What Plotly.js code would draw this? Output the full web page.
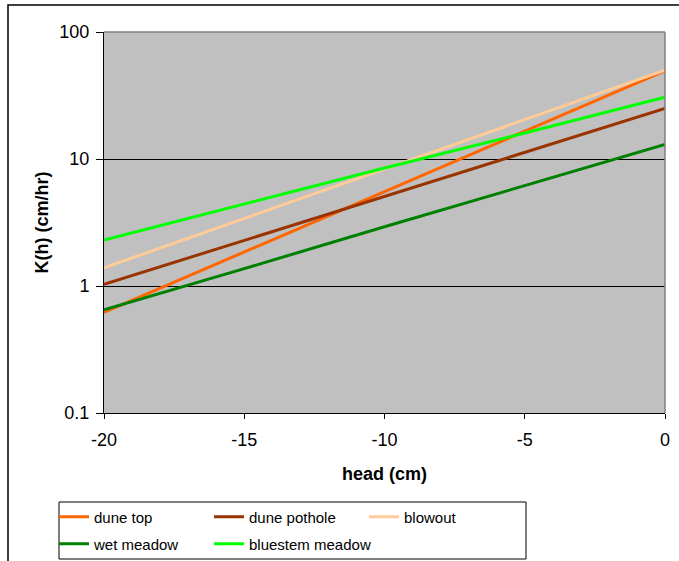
<!DOCTYPE html>
<html>
<head>
<meta charset="utf-8">
<script src="https://cdn.plot.ly/plotly-3.0.1.min.js"></script>
<style>
  html, body { margin: 0; padding: 0; background: #fff; }
  #chart { width: 679px; height: 561px; }
</style>
</head>
<body>
<div id="chart"></div>
<script>
// head (cm)
const head = [-20, -15, -10, -5, 0];
// K(h) (cm/hr) per site
const duneTop        = [0.62, 1.85, 5.55, 16.6, 49.5];
const dunePothole    = [1.03, 2.29, 5.05, 11.3, 25.0];
const blowout        = [1.39, 3.40, 8.40, 20.4, 50.0];
const wetMeadow      = [0.65, 1.37, 2.93, 6.2, 13.0];
const bluestemMeadow = [2.30, 4.40, 8.50, 16.0, 30.6];

const seriesNames = ['dune top', 'dune pothole', 'blowout', 'wet meadow', 'bluestem meadow'];
const seriesValues = [duneTop, dunePothole, blowout, wetMeadow, bluestemMeadow];
const seriesColors = ['#FF6600', '#993300', '#FFCC99', '#008000', '#00FF00'];
const seriesLegend = ['legend', 'legend', 'legend', 'legend2', 'legend2'];

const yTickVals = [0.1, 1, 10, 100];
const yTickText = ['0.1', '1', '10', '100'];
const xTickVals = [-20, -15, -10, -5, 0];
const xTickText = ['-20', '-15', '-10', '-5', '0'];

const FONT = 'Liberation Sans, Arial, sans-serif';

const traces = seriesNames.map((n, i) => ({
  type: 'scatter',
  mode: 'lines',
  name: n,
  x: head,
  y: seriesValues[i],
  line: { color: seriesColors[i], width: 3 },
  legend: seriesLegend[i],
  hoverinfo: 'skip'
}));
// legend-only placeholder so the second legend row keeps the same width as the first
traces.push({
  type: 'scatter', mode: 'lines', name: ' ', x: [head[0]], y: [wetMeadow[0]],
  visible: 'legendonly',
  line: { color: 'rgba(0,0,0,0)', width: 0 }, legend: 'legend2', hoverinfo: 'skip'
});

// paper area: x 40..665, y 32..561 ; axis area x 104..665, y 32..413
const ML = 40, MR = 14, MT = 32, MB = 0;
const PW = 679 - ML - MR;
const PH = 561 - MT - MB;
const px = v => (v - ML) / PW;
const py = v => (561 - MB - v) / PH;

const legendCommon = {
  orientation: 'h',
  xanchor: 'left',
  yanchor: 'middle',
  bgcolor: 'rgba(0,0,0,0)',
  borderwidth: 0,
  font: { family: FONT, size: 15, color: '#000' },
  entrywidth: 110,
  entrywidthmode: 'pixels',
  itemclick: false,
  itemdoubleclick: false
};

const layout = {
  width: 679,
  height: 561,
  margin: { l: ML, r: MR, t: MT, b: MB },
  paper_bgcolor: '#ffffff',
  plot_bgcolor: '#C0C0C0',
  font: { family: FONT, size: 18, color: '#000' },
  showlegend: true,
  xaxis: {
    range: [-20, 0],
    domain: [px(104), 1],
    tickvals: xTickVals,
    ticktext: xTickText,
    showgrid: false,
    zeroline: false,
    showline: true,
    linecolor: '#000',
    linewidth: 1,
    ticks: 'outside',
    ticklen: 5,
    tickcolor: '#000',
    ticklabelstandoff: 5,
    tickfont: { family: FONT, size: 18, color: '#000' },
    title: { text: 'head (cm)', font: { family: FONT, size: 18, color: '#000', weight: 'bold' }, standoff: 18 },
    automargin: false,
    fixedrange: true
  },
  yaxis: {
    type: 'log',
    range: [-1, 2],
    domain: [py(413), 1],
    tickvals: yTickVals,
    ticktext: yTickText,
    showgrid: true,
    gridcolor: '#000',
    gridwidth: 1,
    zeroline: false,
    showline: true,
    linecolor: '#000',
    linewidth: 1,
    ticks: 'outside',
    ticklen: 7,
    tickcolor: '#000',
    ticklabelstandoff: 3,
    tickfont: { family: FONT, size: 18, color: '#000' },
    title: { text: 'K(h) (cm/hr)', font: { family: FONT, size: 18, color: '#000', weight: 'bold' }, standoff: 6 },
    automargin: false,
    fixedrange: true
  },
  legend: Object.assign({}, legendCommon, { x: px(54), y: py(517) }),
  legend2: Object.assign({}, legendCommon, { x: px(54), y: py(544) }),
  shapes: [
    // outer chart border
    { type: 'rect', xref: 'paper', yref: 'paper', x0: px(8), x1: px(700), y0: py(580), y1: py(5),
      line: { color: '#000', width: 1.5 }, fillcolor: 'rgba(0,0,0,0)', layer: 'above' },
    // top and right plot border (gray)
    { type: 'line', xref: 'paper', yref: 'paper', x0: px(104), x1: 1, y0: py(32), y1: py(32),
      line: { color: '#808080', width: 1.5 }, layer: 'above' },
    { type: 'line', xref: 'paper', yref: 'paper', x0: 1, x1: 1, y0: py(413), y1: py(32),
      line: { color: '#808080', width: 1.5 }, layer: 'above' },
    // legend box
    { type: 'rect', xref: 'paper', yref: 'paper', x0: px(59), x1: px(526), y0: py(559), y1: py(502),
      line: { color: '#000', width: 1 }, fillcolor: 'rgba(0,0,0,0)', layer: 'above' }
  ]
};

Plotly.newPlot('chart', traces, layout, { staticPlot: true, displayModeBar: false });
</script>
</body>
</html>
